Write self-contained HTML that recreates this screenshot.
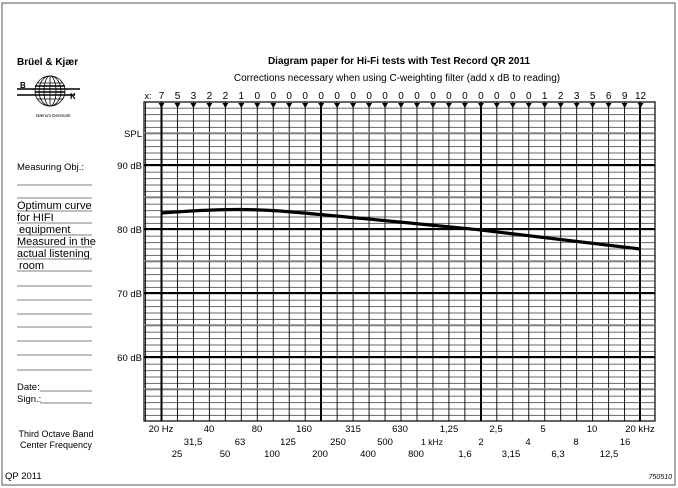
<!DOCTYPE html>
<html><head><meta charset="utf-8"><style>
html,body{margin:0;padding:0;background:#fff}
svg{display:block;font-family:"Liberation Sans",sans-serif}
</style></head><body>
<svg width="678" height="488" viewBox="0 0 678 488" xmlns="http://www.w3.org/2000/svg">
<defs>
<pattern id="v" x="161" y="0" width="15.967" height="488" patternUnits="userSpaceOnUse">
<line x1="0.5" y1="0" x2="0.5" y2="488" stroke="#000" stroke-width="0.9"/>
</pattern>
<pattern id="h" x="0" y="101.3" width="678" height="6.4" patternUnits="userSpaceOnUse">
<line x1="0" y1="0.5" x2="678" y2="0.5" stroke="#333" stroke-width="0.8"/>
</pattern>
</defs>
<rect x="2" y="3" width="673" height="482" fill="none" stroke="#555" stroke-width="1"/>
<rect x="144" y="102" width="511" height="319" fill="url(#h)"/>
<rect x="144" y="102" width="511" height="319" fill="url(#v)"/>
<rect x="144" y="102" width="511" height="319" fill="none" stroke="#000" stroke-width="1.2"/>
<g stroke="#888" stroke-width="1.6">
<line x1="144" y1="133" x2="655" y2="133"/>
<line x1="144" y1="197" x2="655" y2="197"/>
<line x1="144" y1="261" x2="655" y2="261"/>
<line x1="144" y1="325" x2="655" y2="325"/>
<line x1="144" y1="389" x2="655" y2="389"/>
</g>
<g stroke="#000" stroke-width="2">
<line x1="144" y1="165" x2="655" y2="165"/>
<line x1="144" y1="229" x2="655" y2="229"/>
<line x1="144" y1="293" x2="655" y2="293"/>
<line x1="144" y1="357" x2="655" y2="357"/>
<line x1="161.5" y1="102" x2="161.5" y2="421"/>
<line x1="321" y1="102" x2="321" y2="421"/>
<line x1="481" y1="102" x2="481" y2="421"/>
<line x1="640" y1="102" x2="640" y2="421"/>
</g>
<path d="M161 213 C200 210 240 208 280 211 C340 216 420 224 481 230 C540 237 600 244 640 249" fill="none" stroke="#000" stroke-width="3.2"/>
<g fill="#000">
<path d="M158.5 103 h6 l-3 5z"/><path d="M174.5 103 h6 l-3 5z"/><path d="M190.4 103 h6 l-3 5z"/><path d="M206.4 103 h6 l-3 5z"/><path d="M222.4 103 h6 l-3 5z"/><path d="M238.3 103 h6 l-3 5z"/><path d="M254.3 103 h6 l-3 5z"/><path d="M270.3 103 h6 l-3 5z"/><path d="M286.2 103 h6 l-3 5z"/><path d="M302.2 103 h6 l-3 5z"/><path d="M318.2 103 h6 l-3 5z"/><path d="M334.1 103 h6 l-3 5z"/><path d="M350.1 103 h6 l-3 5z"/><path d="M366.1 103 h6 l-3 5z"/><path d="M382 103 h6 l-3 5z"/><path d="M398 103 h6 l-3 5z"/><path d="M414 103 h6 l-3 5z"/><path d="M430 103 h6 l-3 5z"/><path d="M445.9 103 h6 l-3 5z"/><path d="M461.9 103 h6 l-3 5z"/><path d="M477.9 103 h6 l-3 5z"/><path d="M493.8 103 h6 l-3 5z"/><path d="M509.8 103 h6 l-3 5z"/><path d="M525.8 103 h6 l-3 5z"/><path d="M541.7 103 h6 l-3 5z"/><path d="M557.7 103 h6 l-3 5z"/><path d="M573.7 103 h6 l-3 5z"/><path d="M589.6 103 h6 l-3 5z"/><path d="M605.6 103 h6 l-3 5z"/><path d="M621.6 103 h6 l-3 5z"/><path d="M637.5 103 h6 l-3 5z"/>
</g>
<g font-size="10" text-anchor="middle" fill="#000">
<text x="148" y="99" font-size="9">x:</text>
<text x="161.5" y="99">7</text><text x="177.5" y="99">5</text><text x="193.4" y="99">3</text><text x="209.4" y="99">2</text><text x="225.4" y="99">2</text><text x="241.3" y="99">1</text><text x="257.3" y="99">0</text><text x="273.3" y="99">0</text><text x="289.2" y="99">0</text><text x="305.2" y="99">0</text><text x="321.2" y="99">0</text><text x="337.1" y="99">0</text><text x="353.1" y="99">0</text><text x="369.1" y="99">0</text><text x="385" y="99">0</text><text x="401" y="99">0</text><text x="417" y="99">0</text><text x="433" y="99">0</text><text x="448.9" y="99">0</text><text x="464.9" y="99">0</text><text x="480.9" y="99">0</text><text x="496.8" y="99">0</text><text x="512.8" y="99">0</text><text x="528.8" y="99">0</text><text x="544.7" y="99">1</text><text x="560.7" y="99">2</text><text x="576.7" y="99">3</text><text x="592.6" y="99">5</text><text x="608.6" y="99">6</text><text x="624.6" y="99">9</text><text x="640.5" y="99">12</text>
</g>
<text x="399" y="64" font-size="10" font-weight="bold" text-anchor="middle">Diagram paper for Hi-Fi tests with Test Record QR 2011</text>
<text x="397" y="81" font-size="10" text-anchor="middle">Corrections necessary when using C-weighting filter (add x dB to reading)</text>
<text x="17" y="65" font-size="10" font-weight="bold">Brüel &amp; Kjær</text>
<g fill="none" stroke="#000" stroke-width="0.8">
<circle cx="50" cy="91" r="15"/>
<ellipse cx="50" cy="91" rx="6" ry="15"/>
<ellipse cx="50" cy="91" rx="11" ry="15"/>
<line x1="50" y1="76" x2="50" y2="106"/>
<line x1="37" y1="83" x2="63" y2="83"/>
<line x1="37" y1="99" x2="63" y2="99"/>
</g>
<g stroke="#000" stroke-width="1.6">
<line x1="17" y1="89" x2="80" y2="89"/><line x1="17" y1="95" x2="75" y2="95"/>
<line x1="35" y1="86" x2="65" y2="86"/><line x1="35" y1="92" x2="65" y2="92"/>
</g>
<text x="20" y="88" font-size="8" font-weight="bold">B</text>
<text x="70" y="99" font-size="8" font-weight="bold">K</text>
<text x="36" y="117" font-size="4.5">Nærum Denmark</text>
<g font-size="9.5" text-anchor="end">
<text x="142" y="137">SPL</text>
<text x="142" y="169">90 dB</text>
<text x="142" y="233">80 dB</text>
<text x="142" y="297">70 dB</text>
<text x="142" y="361">60 dB</text>
</g>
<g font-size="9.5">
<text x="17" y="170">Measuring Obj.:</text>
<text x="17" y="209" font-size="11">Optimum curve</text>
<text x="17" y="221" font-size="11">for HIFI</text>
<text x="19" y="233" font-size="11">equipment</text>
<text x="17" y="245" font-size="11">Measured in the</text>
<text x="17" y="257" font-size="11">actual listening</text>
<text x="19" y="269" font-size="11">room</text>
<text x="17" y="390">Date:</text>
<text x="17" y="402">Sign.:</text>
</g>
<g stroke="#555" stroke-width="0.8">
<line x1="17" y1="185" x2="92" y2="185"/>
<line x1="17" y1="198" x2="92" y2="198"/>
<line x1="17" y1="211" x2="92" y2="211"/>
<line x1="17" y1="223" x2="92" y2="223"/>
<line x1="17" y1="235" x2="92" y2="235"/>
<line x1="17" y1="247" x2="92" y2="247"/>
<line x1="17" y1="259" x2="92" y2="259"/>
<line x1="17" y1="271" x2="92" y2="271"/>
<line x1="17" y1="286" x2="92" y2="286"/>
<line x1="17" y1="300" x2="92" y2="300"/>
<line x1="17" y1="314" x2="92" y2="314"/>
<line x1="17" y1="327" x2="92" y2="327"/>
<line x1="17" y1="341" x2="92" y2="341"/>
<line x1="17" y1="355" x2="92" y2="355"/>
<line x1="17" y1="370" x2="92" y2="370"/>
<line x1="40" y1="391" x2="92" y2="391"/>
<line x1="40" y1="403" x2="92" y2="403"/>
</g>
<g font-size="9" text-anchor="middle">
<text x="56" y="437">Third Octave Band</text>
<text x="56" y="448">Center Frequency</text>
</g>
<g font-size="9.5" text-anchor="middle">
<text x="161" y="432">20 Hz</text><text x="209" y="432">40</text><text x="257" y="432">80</text><text x="304" y="432">160</text><text x="353" y="432">315</text><text x="400" y="432">630</text><text x="449" y="432">1,25</text><text x="496" y="432">2,5</text><text x="543" y="432">5</text><text x="592" y="432">10</text><text x="640" y="432">20 kHz</text>
<text x="193" y="445">31,5</text><text x="240" y="445">63</text><text x="288" y="445">125</text><text x="338" y="445">250</text><text x="385" y="445">500</text><text x="432" y="445" font-size="8.5">1 kHz</text><text x="481" y="445">2</text><text x="528" y="445">4</text><text x="576" y="445">8</text><text x="625" y="445">16</text>
<text x="177" y="457">25</text><text x="225" y="457">50</text><text x="272" y="457">100</text><text x="320" y="457">200</text><text x="368" y="457">400</text><text x="416" y="457">800</text><text x="465" y="457">1,6</text><text x="511" y="457">3,15</text><text x="558" y="457">6,3</text><text x="609" y="457">12,5</text>
</g>
<text x="5" y="479" font-size="9.5">QP 2011</text>
<text x="672" y="479" font-size="7" font-style="italic" text-anchor="end">750510</text>
</svg>
</body></html>
